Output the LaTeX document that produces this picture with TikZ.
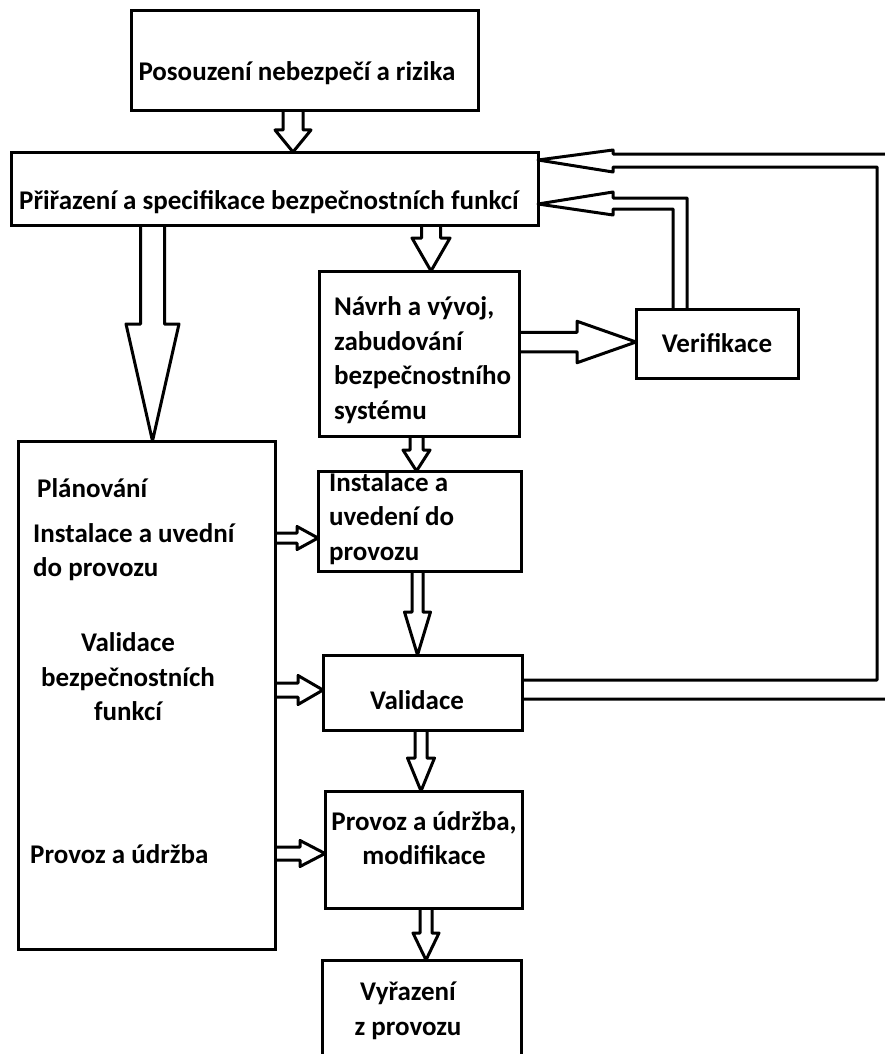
\documentclass[tikz,border=0pt]{standalone}
\usepackage{fontspec}
\setmainfont{Carlito}
\usetikzlibrary{calc}

\tikzset{
  box/.style={draw, line width=3pt, outer sep=0pt, inner sep=0pt},
  lbl/.style={font=\bfseries\fontsize{27pt}{34.5pt}\selectfont, inner sep=0pt},
  blockarr/.style={draw, line width=3pt, line join=round},
}

% hollow arrow pointing down: from, to, x, half shaft, half head, head length
\newcommand{\downarr}[6]{%
  \draw[blockarr] let \p1=(#1), \p2=(#2) in
    ({#3pt-#4pt},\y1) -- ({#3pt-#4pt},{\y2+#6pt}) -- ({#3pt-#5pt},{\y2+#6pt})
    -- (#3pt,\y2) -- ({#3pt+#5pt},{\y2+#6pt}) -- ({#3pt+#4pt},{\y2+#6pt})
    -- ({#3pt+#4pt},\y1);
}
% hollow arrow pointing right: from, to, y, half shaft, half head, head length
\newcommand{\rightarr}[6]{%
  \draw[blockarr] let \p1=(#1), \p2=(#2) in
    (\x1,{-#3pt+#4pt}) -- ({\x2-#6pt},{-#3pt+#4pt}) -- ({\x2-#6pt},{-#3pt+#5pt})
    -- (\x2,{-#3pt}) -- ({\x2-#6pt},{-#3pt-#5pt}) -- ({\x2-#6pt},{-#3pt-#4pt})
    -- (\x1,{-#3pt-#4pt});
}

\begin{document}
\begin{tikzpicture}[x=1pt,y=-1pt]
  \useasboundingbox[fill=white] (0,0) rectangle (885,1054);

  % boxes
  \node[box, minimum width=347pt, minimum height=100pt] (risk) at (304.5,61) {};
  \node[box, minimum width=527pt, minimum height=73pt] (assign) at (274.5,188.5) {};
  \node[box, minimum width=200pt, minimum height=165pt] (navrh) at (419,353.5) {};
  \node[box, minimum width=162pt, minimum height=68.5pt] (verif) at (717,343.75) {};
  \node[box, minimum width=257pt, minimum height=508pt] (plan) at (146.5,695) {};
  \node[box, minimum width=203pt, minimum height=100pt] (inst) at (419.5,521) {};
  \node[box, minimum width=199pt, minimum height=75pt] (valid) at (422.5,692.5) {};
  \node[box, minimum width=197pt, minimum height=117pt] (provoz) at (423.5,849.5) {};
  \node[box, minimum width=199pt, minimum height=102pt] (retire) at (421.5,1011) {};

  % texts
  \node[lbl] (riskt) at (297,73) {Posouzení nebezpečí a rizika};
  \node[lbl] (assignt) at (269,202) {Přiřazení a specifikace bezpečnostních funkcí};
  \node[lbl, align=left, anchor=west] (navrht) at (334,360) {Návrh a vývoj,\\zabudování\\bezpečnostního\\systému};
  \node[lbl] (veriftt) at (717,343) {Verifikace};
  \node[lbl, align=left, anchor=west] (instt) at (329,518.5) {Instalace a\\uvedení do\\provozu};
  \node[lbl] (validt) at (417,700) {Validace};
  \node[lbl, align=center] (provozt) at (424,838) {Provoz a údržba,\\modifikace};
  \node[lbl, align=center] (retiret) at (408,1011) {Vyřazení\\z provozu};
  \node[lbl, anchor=west] (plan1) at (37,488) {Plánování};
  \node[lbl, align=left, anchor=west] (plan2) at (33,552) {Instalace a uvední\\do provozu};
  \node[lbl, align=center] (plan3) at (128,677) {Validace\\bezpečnostních\\funkcí};
  \node[lbl, anchor=west] (plan4) at (30,854) {Provoz a údržba};

  % main flow
  \downarr{risk.south}{assign.north}{293}{10}{18}{22}
  \downarr{assign.south}{plan.north}{152.5}{12}{26.5}{117}
  \downarr{assign.south}{navrh.north}{431}{9.5}{19}{33}
  \downarr{navrh.south}{inst.north}{416.5}{6.5}{13.5}{21}
  \downarr{inst.south}{valid.north}{417.5}{5.5}{13}{43}
  \downarr{valid.south}{provoz.north}{421}{6}{13.5}{33}
  \downarr{provoz.south}{retire.north}{426}{6}{13}{27}

  \rightarr{plan.east}{inst.west}{538}{5}{11.5}{21}
  \rightarr{plan.east}{valid.west}{690}{7}{14.5}{25}
  \rightarr{plan.east}{provoz.west}{853.5}{6.5}{13}{25}
  \rightarr{navrh.east}{verif.west}{342}{9.75}{20.75}{59}

  % feedback to assignment
  \coordinate (vin) at (673,209);
  \coordinate (vout) at (687,198);
  \coordinate (vtip) at (0,204);
  \draw[blockarr] (verif.north -| vin) -- (vin) -- (613,209) -- (613,215)
    -- (assign.east |- vtip) -- (613,192) -- (613,198) -- (vout) -- (verif.north -| vout);

  \coordinate (rin) at (877,680);
  \coordinate (rout) at (891,699);
  \coordinate (rtip) at (0,160);
  \draw[blockarr] (valid.east |- rin) -- (rin) -- (877,167) -- (613,167) -- (613,172)
    -- (assign.east |- rtip) -- (613,150) -- (613,154) -- (891,154) -- (rout) -- (valid.east |- rout);
\end{tikzpicture}
\end{document}
